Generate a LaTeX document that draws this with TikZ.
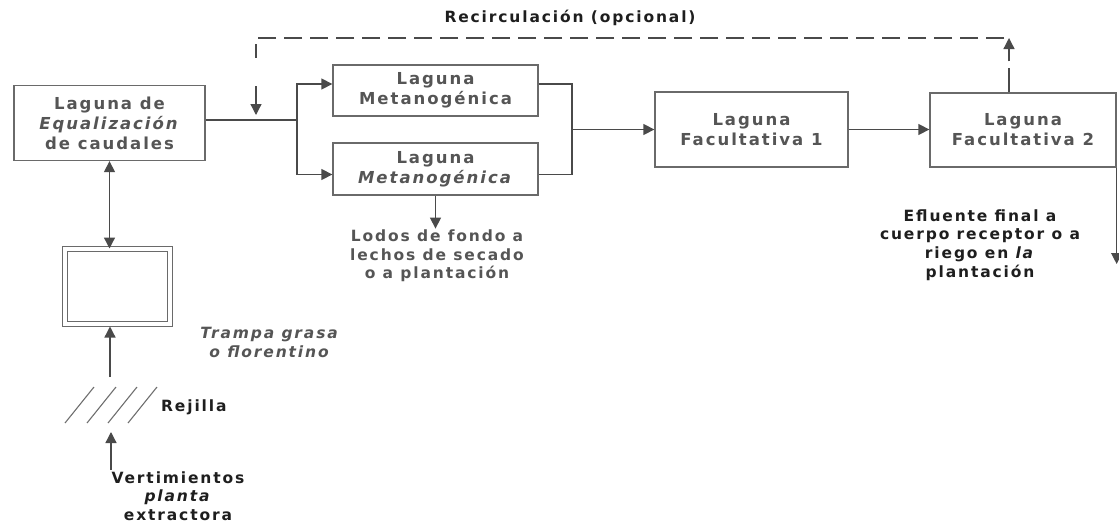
\documentclass[tikz,border=0pt]{standalone}
\usepackage{fontspec}
\newfontfamily\dfont[LetterSpace=12]{DejaVu Sans}
\usetikzlibrary{arrows.meta,calc}
\definecolor{boxgray}{HTML}{6A6A6A}
\definecolor{linegray}{HTML}{4A4A4A}
\definecolor{txtgray}{HTML}{555555}
\definecolor{lblblack}{HTML}{1E1E1E}
\begin{document}
\begin{tikzpicture}[x=1pt,y=-1pt,
  box/.style={draw=boxgray, line width=1.3pt, align=center, inner sep=0pt,
    text=txtgray, font=\dfont\bfseries\fontsize{16.5}{20}\selectfont},
  lbl/.style={align=center, inner sep=1pt, text=lblblack,
    font=\dfont\bfseries\fontsize{15.5}{18.7}\selectfont},
  glbl/.style={lbl, text=txtgray},
  line/.style={draw=linegray, line width=1.3pt},
  arr/.style={line, -{Triangle[length=11pt,width=11pt]}},
  dblarr/.style={line, {Triangle[length=11pt,width=11pt]}-{Triangle[length=11pt,width=11pt]}},
  dline/.style={line, dash pattern=on 18pt off 8pt},
  hatch/.style={draw=linegray!80, line width=1.1pt}
  ]
\useasboundingbox (0,0) rectangle (1119,525);

% boxes
\node[box, minimum width=191pt, minimum height=75pt] (eq) at (109.5,123)
  {Laguna de\\\textit{Equalización}\\de caudales};
\node[box, minimum width=205pt, minimum height=51pt] (met1) at (435.5,90.5)
  {Laguna\\Metanogénica};
\node[box, minimum width=205pt, minimum height=52pt] (met2) at (435.5,169)
  {Laguna\\\textit{Metanogénica}};
\node[box, minimum width=193pt, minimum height=75pt] (fac1) at (751.5,129.5)
  {Laguna\\Facultativa 1};
\node[box, minimum width=186pt, minimum height=74pt] (fac2) at (1023,130)
  {Laguna\\Facultativa 2};
\node[draw=boxgray, line width=1pt, double, double distance=4pt,
  minimum width=105pt, minimum height=75pt, inner sep=0pt] (trampa) at (117.5,286.5) {};

% labels
\node[lbl] (rec) at (570,18) {Recirculación (opcional)};
\node[glbl] (lodos) at (437,256) {Lodos de fondo a\\lechos de secado\\o a plantación};
\node[lbl] (efl) at (980,245) {Efluente final a\\cuerpo receptor o a\\riego en \textit{la}\\plantación};
\node[glbl] (tr) at (270,342.5) {\textit{Trampa grasa}\\\textit{o florentino}};
\node[lbl, anchor=west] (rejl) at (160,407) {Rejilla};
\node[lbl] (vert) at (178,496) {Vertimientos\\\textit{planta}\\extractora};

% main flow
\coordinate (bl) at (297,120);
\draw[line] (eq.east |- bl) -- (bl);
\draw[arr] (bl) |- ([yshift=6.5pt]met1.west);
\draw[arr] (bl) |- ([yshift=-5.5pt]met2.west);
\coordinate (br) at (572,129.5);
\draw[line] ([yshift=6.5pt]met1.east) -| (br);
\draw[line] ([yshift=-5.5pt]met2.east) -| (br);
\draw[arr] (br) -- (br -| fac1.west);
\draw[arr] (fac1.east) -- (fac1.east -| fac2.west);

% effluent
\coordinate (eff) at (1116,264);
\draw[arr] (fac2.south east) -- (fac2.south east |- eff);

% recirculation
\coordinate (rcT) at (1009,38);
\coordinate (rcL) at (256,38);
\coordinate (rcD) at (256,58);
\draw[arr, dash pattern=on 24pt off 7pt] (fac2.north -| rcT) -- (rcT);
\draw[dline] ([xshift=-5pt]rcT) -- (rcL) -- (rcD);
\coordinate (inA) at (256,86);
\coordinate (inB) at (256,115);
\draw[arr] (inA) -- (inB);

% sludge
\draw[arr] (met2.south) -- (met2.south |- lodos.north);

% equalization <-> trap
\draw[dblarr] (eq.south) -- (eq.south |- trampa.north);

% grille
\coordinate (rej) at (110,405);
\foreach \dx in {-45,-23,-2,18}
  \draw[hatch] ($(rej)+(\dx,18)$) -- ++(29,-36);
\coordinate (rejT) at (110,377);
\draw[arr] (rejT) -- ([yshift=-2pt]rejT |- trampa.south);
\coordinate (rejB) at (111,432);
\draw[arr] (vert.north -| rejB) -- (rejB);
\end{tikzpicture}
\end{document}
